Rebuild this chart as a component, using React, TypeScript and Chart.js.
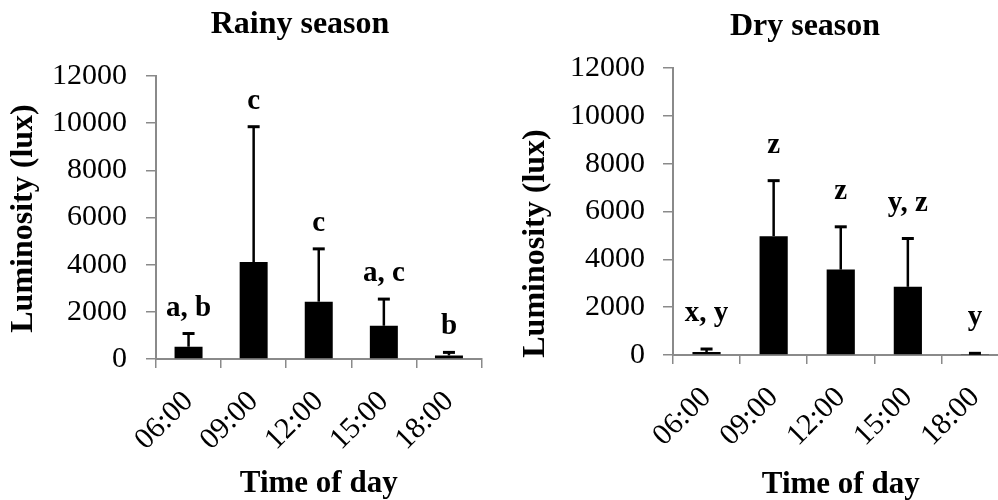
import React, { useEffect, useRef } from "react";
import { Chart, registerables } from "chart.js";

Chart.register(...registerables);

const times = ["06:00", "09:00", "12:00", "15:00", "18:00"];
const yTicks = [0, 2000, 4000, 6000, 8000, 10000, 12000];

const rainyMean = [520, 4110, 2430, 1410, 150];
const rainySD = [560, 5740, 2240, 1130, 130];
const rainyLetters = ["a, b", "c", "c", "a, c", "b"];

const dryMean = [125, 4970, 3570, 2850, 40];
const drySD = [125, 2320, 1790, 2020, 30];
const dryLetters = ["x, y", "z", "z", "y, z", "y"];

const SERIF = "'Liberation Serif', 'Times New Roman', serif";
const AXIS_GRAY = "#8a8a8a";

const annotPlugin = {
  id: "annot",
  afterDatasetsDraw(chart: any, _args: any, opts: any) {
    const ctx = chart.ctx;
    const meta = chart.getDatasetMeta(0);
    const ys = chart.scales.y;
    ctx.save();
    ctx.strokeStyle = "#000";
    ctx.fillStyle = "#000";
    meta.data.forEach((bar: any, i: number) => {
      const top = ys.getPixelForValue(opts.means[i] + opts.sds[i]);
      ctx.lineWidth = 2.5;
      ctx.beginPath();
      ctx.moveTo(bar.x, bar.y);
      ctx.lineTo(bar.x, top);
      ctx.stroke();
      ctx.lineWidth = 3;
      ctx.beginPath();
      ctx.moveTo(bar.x - 6, top);
      ctx.lineTo(bar.x + 6, top);
      ctx.stroke();
      ctx.font = `bold 29px ${SERIF}`;
      ctx.textAlign = "center";
      ctx.textBaseline = "alphabetic";
      ctx.fillText(opts.letters[i], bar.x, top - opts.letterGap);
    });
    ctx.restore();
  },
  afterDraw(chart: any, _args: any, opts: any) {
    const ctx = chart.ctx;
    const area = chart.chartArea;
    ctx.save();
    ctx.fillStyle = "#000";
    ctx.textAlign = "center";
    ctx.textBaseline = "alphabetic";
    ctx.font = `bold 32px ${SERIF}`;
    ctx.fillText(opts.title, opts.titleX, opts.titleY);
    ctx.translate(opts.yTitleX, (area.top + area.bottom) / 2 + opts.yTitleShift);
    ctx.rotate(-Math.PI / 2);
    ctx.textBaseline = "middle";
    ctx.font = `bold 32px ${SERIF}`;
    ctx.fillText(opts.yTitle, 0, 0);
    ctx.restore();
  },
};

type Cfg = {
  means: number[];
  sds: number[];
  letters: string[];
  title: string;
  titleX: number;
  titleY: number;
  yTitleX: number;
  yTitleShift: number;
  letterGap: number;
  left: number;
  top: number;
  bottom: number;
  right: number;
  width: number;
  barPct: number;
  xTitlePad: number;
  yTickPad: number;
  xTickPad: number;
};

function BarChart({ cfg, style }: { cfg: Cfg; style: React.CSSProperties }) {
  const ref = useRef<HTMLCanvasElement>(null);
  useEffect(() => {
    const chart = new Chart(ref.current as HTMLCanvasElement, {
      type: "bar",
      data: {
        labels: times,
        datasets: [
          {
            data: cfg.means,
            backgroundColor: "#000",
            borderWidth: 0,
            barPercentage: cfg.barPct,
            categoryPercentage: 1,
          },
        ],
      },
      plugins: [annotPlugin],
      options: {
        animation: false,
        responsive: false,
        devicePixelRatio: 1,
        layout: { padding: { left: 0, right: cfg.width - cfg.right, top: cfg.top, bottom: 0 } },
        plugins: {
          legend: { display: false },
          tooltip: { enabled: false },
          title: { display: false },
          annot: {
            means: cfg.means,
            sds: cfg.sds,
            letters: cfg.letters,
            title: cfg.title,
            titleX: cfg.titleX,
            titleY: cfg.titleY,
            yTitle: "Luminosity (lux)",
            yTitleX: cfg.yTitleX,
            yTitleShift: cfg.yTitleShift,
            letterGap: cfg.letterGap,
          },
        } as any,
        scales: {
          x: {
            afterFit: (s: any) => {
              s.height = 500 - cfg.bottom;
            },
            grid: {
              display: true,
              drawOnChartArea: false,
              drawTicks: true,
              tickLength: 9,
              color: AXIS_GRAY,
              lineWidth: 1.5,
            },
            border: { display: true, color: AXIS_GRAY, width: 2 },
            ticks: {
              color: "#000",
              font: { family: SERIF, size: 30 },
              minRotation: 45,
              maxRotation: 45,
              autoSkip: false,
              padding: cfg.xTickPad,
            },
            title: {
              display: true,
              text: "Time of day",
              color: "#000",
              font: { family: SERIF, size: 31, weight: "bold" },
              padding: { top: 0, bottom: cfg.xTitlePad },
            },
          },
          y: {
            min: 0,
            max: 12000,
            afterFit: (s: any) => {
              s.width = cfg.left;
            },
            afterBuildTicks: (s: any) => {
              s.ticks = yTicks.map((v) => ({ value: v }));
            },
            grid: {
              display: true,
              drawOnChartArea: false,
              drawTicks: true,
              tickLength: 10,
              color: AXIS_GRAY,
              lineWidth: 1.5,
            },
            border: { display: true, color: AXIS_GRAY, width: 2 },
            ticks: {
              color: "#000",
              font: { family: SERIF, size: 30 },
              padding: cfg.yTickPad,
              callback: (v: any) => String(v),
            },
          },
        },
      } as any,
    });
    return () => chart.destroy();
  }, []);
  return <canvas ref={ref} width={cfg.width} height={500} style={style} />;
}

const rainyCfg: Cfg = {
  means: rainyMean,
  sds: rainySD,
  letters: rainyLetters,
  title: "Rainy season",
  titleX: 300,
  titleY: 33,
  yTitleX: 24,
  yTitleShift: 1,
  letterGap: 18,
  left: 156,
  top: 76,
  bottom: 359,
  right: 481.5,
  width: 600,
  barPct: 0.43,
  xTitlePad: -3,
  yTickPad: 19,
  xTickPad: 16,
};

const dryCfg: Cfg = {
  means: dryMean,
  sds: drySD,
  letters: dryLetters,
  title: "Dry season",
  titleX: 306,
  titleY: 35,
  yTitleX: 37,
  yTitleShift: 32,
  letterGap: 28,
  left: 174,
  top: 68,
  bottom: 355,
  right: 509.5,
  width: 612,
  barPct: 0.42,
  xTitlePad: -4,
  yTickPad: 18,
  xTickPad: 16,
};

export default function App() {
  return (
    <div
      style={{
        position: "absolute",
        left: 0,
        top: 0,
        width: 998,
        height: 500,
        overflow: "hidden",
        background: "#fff",
      }}
    >
      <BarChart cfg={rainyCfg} style={{ position: "absolute", left: 0, top: 0 }} />
      <BarChart cfg={dryCfg} style={{ position: "absolute", left: 499, top: 0 }} />
    </div>
  );
}
